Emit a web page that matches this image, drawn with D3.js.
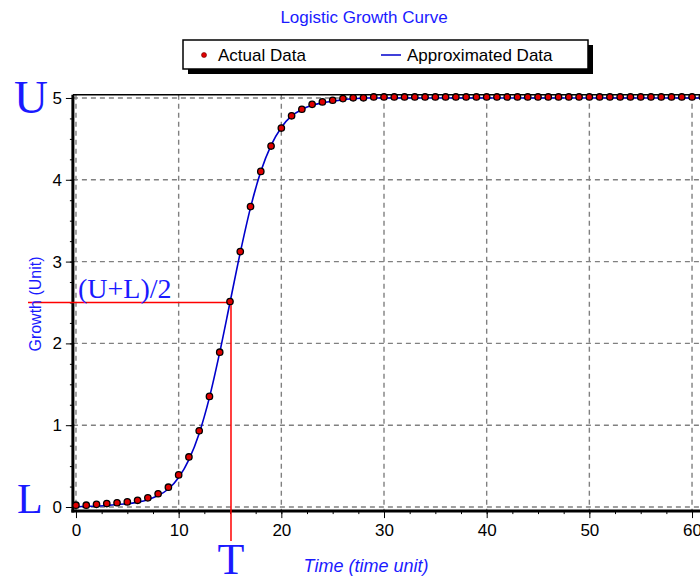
<!DOCTYPE html>
<html>
<head>
<meta charset="utf-8">
<script src="https://cdn.jsdelivr.net/npm/d3@7"></script>
<style>
  body { margin: 0; background: #fff; }
  svg { display: block; font-family: Arial, "Liberation Sans", sans-serif; }
</style>
</head>
<body>
<svg></svg>
<script>
// time steps and growth values
var time = [0,1,2,3,4,5,6,7,8,9,10,11,12,13,14,15,16,17,18,19,20,21,22,23,24,25,26,27,28,29,30,
  31,32,33,34,35,36,37,38,39,40,41,42,43,44,45,46,47,48,49,50,51,52,53,54,55,56,57,58,59,60,61,62];
var actual = [0.01,0.01,0.02,0.03,0.04,0.05,0.07,0.10,0.15,0.23,0.38,0.60,0.92,1.34,1.88,2.50,
  3.11,3.66,4.09,4.40,4.62,4.77,4.85,4.91,4.94,4.96,4.98,4.99,4.99,5,5,
  5,5,5,5,5,5,5,5,5,5,5,5,5,5,5,5,5,5,5,5,5,5,5,5,5,5,5,5,5,5,5,5];
var approx = [0.00,0.01,0.01,0.02,0.03,0.04,0.06,0.09,0.14,0.22,0.36,0.58,0.90,1.34,1.89,2.50,
  3.11,3.66,4.10,4.42,4.64,4.78,4.86,4.91,4.94,4.96,4.98,4.99,5,5,5,
  5,5,5,5,5,5,5,5,5,5,5,5,5,5,5,5,5,5,5,5,5,5,5,5,5,5,5,5,5,5,5,5];
var xTicks = [0,10,20,30,40,50,60];
var yTicks = [0,1,2,3,4,5];
var midT = 15, midValue = 2.5;

var svgWidth = 700, svgHeight = 579;
var blue = "#1a1aff";

var svg = d3.select("svg")
  .attr("width", svgWidth)
  .attr("height", svgHeight);

var x = d3.scaleLinear().domain([-0.3, 62.5]).range([72.9, 717.7]);
var y = d3.scaleLinear().domain([-0.05, 5.04]).range([511.1, 94.7]);

// dashed grid
svg.append("g").selectAll("line")
  .data(xTicks)
  .enter().append("line")
  .attr("x1", function(d) { return x(d); })
  .attr("x2", function(d) { return x(d); })
  .attr("y1", y(5.04)).attr("y2", y(-0.05))
  .attr("stroke", "#808080").attr("stroke-width", 1.4)
  .attr("stroke-dasharray", "5,4");

svg.append("g").selectAll("line")
  .data(yTicks)
  .enter().append("line")
  .attr("x1", x(-0.3)).attr("x2", svgWidth + 20)
  .attr("y1", function(d) { return y(d); })
  .attr("y2", function(d) { return y(d); })
  .attr("stroke", "#808080").attr("stroke-width", 1.4)
  .attr("stroke-dasharray", "5,4");

// axes: major + minor ticks
svg.append("g")
  .attr("transform", "translate(" + x(-0.3) + ",0)")
  .call(d3.axisLeft(y).tickValues(yTicks).tickSize(7).tickPadding(4).tickFormat(d3.format("d")));
svg.append("g")
  .attr("transform", "translate(" + x(-0.3) + ",0)")
  .call(d3.axisLeft(y).tickValues(d3.range(0, 5.01, 0.25)).tickSize(3).tickFormat(""));

svg.append("g")
  .attr("transform", "translate(0," + y(-0.05) + ")")
  .call(d3.axisBottom(x).tickValues(xTicks).tickSize(7).tickPadding(6).tickFormat(d3.format("d")));
svg.append("g")
  .attr("transform", "translate(0," + y(-0.05) + ")")
  .call(d3.axisBottom(x).tickValues(d3.range(0, 62.5, 2.5)).tickSize(3).tickFormat(""));

svg.selectAll(".domain").remove();
svg.selectAll(".tick line").attr("stroke", "#000").attr("stroke-width", 1);
svg.selectAll(".tick text").attr("fill", "#000").style("font-size", "17px")
  .style("font-family", "Arial, 'Liberation Sans', sans-serif");

// frame
svg.append("line").attr("x1", x(-0.3)).attr("x2", svgWidth + 20)
  .attr("y1", y(5.04)).attr("y2", y(5.04))
  .attr("stroke", "#000").attr("stroke-width", 1.5);
svg.append("line").attr("x1", x(-0.3)).attr("x2", x(-0.3))
  .attr("y1", y(5.04)).attr("y2", y(-0.05) + 1.5)
  .attr("stroke", "#000").attr("stroke-width", 3);
svg.append("line").attr("x1", x(-0.3) - 1.5).attr("x2", svgWidth + 20)
  .attr("y1", y(-0.05)).attr("y2", y(-0.05))
  .attr("stroke", "#000").attr("stroke-width", 3);

// red guide lines for the midpoint
svg.append("line")
  .attr("x1", 28).attr("x2", x(midT))
  .attr("y1", y(midValue)).attr("y2", y(midValue))
  .attr("stroke", "#ff0000").attr("stroke-width", 1.5);
svg.append("line")
  .attr("x1", x(midT) + 1).attr("x2", x(midT) + 1)
  .attr("y1", y(midValue)).attr("y2", 541)
  .attr("stroke", "#ff0000").attr("stroke-width", 1.5);

// fitted curve
var line = d3.line()
  .x(function(d, i) { return x(time[i]); })
  .y(function(d) { return y(d); })
  .curve(d3.curveMonotoneX);

svg.append("path")
  .datum(approx)
  .attr("fill", "none")
  .attr("stroke", "#0000cc")
  .attr("stroke-width", 1.6)
  .attr("d", line);

// actual points
svg.append("g").selectAll("circle")
  .data(actual)
  .enter().append("circle")
  .attr("cx", function(d, i) { return x(time[i]); })
  .attr("cy", function(d) { return y(d) - 1; })
  .attr("r", 3.2)
  .attr("fill", "#e00000")
  .attr("stroke", "#000")
  .attr("stroke-width", 1.3);

// title
svg.append("text")
  .attr("x", 364).attr("y", 23)
  .attr("text-anchor", "middle")
  .attr("fill", blue)
  .style("font-size", "17px")
  .text("Logistic Growth Curve");

// legend
svg.append("rect").attr("x", 188).attr("y", 45).attr("width", 405).attr("height", 29).attr("fill", "#000");
svg.append("rect").attr("x", 183).attr("y", 40).attr("width", 405).attr("height", 29)
  .attr("fill", "#fff").attr("stroke", "#000").attr("stroke-width", 1.5);
svg.append("circle").attr("cx", 204).attr("cy", 55).attr("r", 2.5).attr("fill", "#e00000").attr("stroke", "#600").attr("stroke-width", 0.6);
svg.append("text").attr("x", 218).attr("y", 61).style("font-size", "17px").attr("fill", "#000").text("Actual Data");
svg.append("line").attr("x1", 381).attr("x2", 401).attr("y1", 55).attr("y2", 55).attr("stroke", "#0000cc").attr("stroke-width", 1.5);
svg.append("text").attr("x", 407).attr("y", 61).style("font-size", "17px").attr("fill", "#000").text("Approximated Data");

// axis titles
svg.append("text")
  .attr("transform", "translate(41,304) rotate(-90)")
  .attr("text-anchor", "middle")
  .attr("fill", blue)
  .style("font-size", "16px")
  .text("Growth (Unit)");

svg.append("text")
  .attr("x", 366).attr("y", 572)
  .attr("text-anchor", "middle")
  .attr("fill", blue)
  .style("font-size", "18px")
  .style("font-style", "italic")
  .text("Time (time unit)");

// big serif annotations
var serif = "'Liberation Serif', 'Times New Roman', serif";
svg.append("text").attr("x", 14).attr("y", 113).attr("fill", blue)
  .style("font-family", serif).style("font-size", "47px").text("U");
svg.append("text").attr("x", 17).attr("y", 513).attr("fill", blue)
  .style("font-family", serif).style("font-size", "42px").text("L");
svg.append("text").attr("x", x(midT) + 1).attr("y", 574).attr("text-anchor", "middle").attr("fill", blue)
  .style("font-family", serif).style("font-size", "44px").text("T");
svg.append("text").attr("x", 78).attr("y", 298).attr("fill", blue)
  .style("font-family", serif).style("font-size", "28px").text("(U+L)/2");
</script>
</body>
</html>
